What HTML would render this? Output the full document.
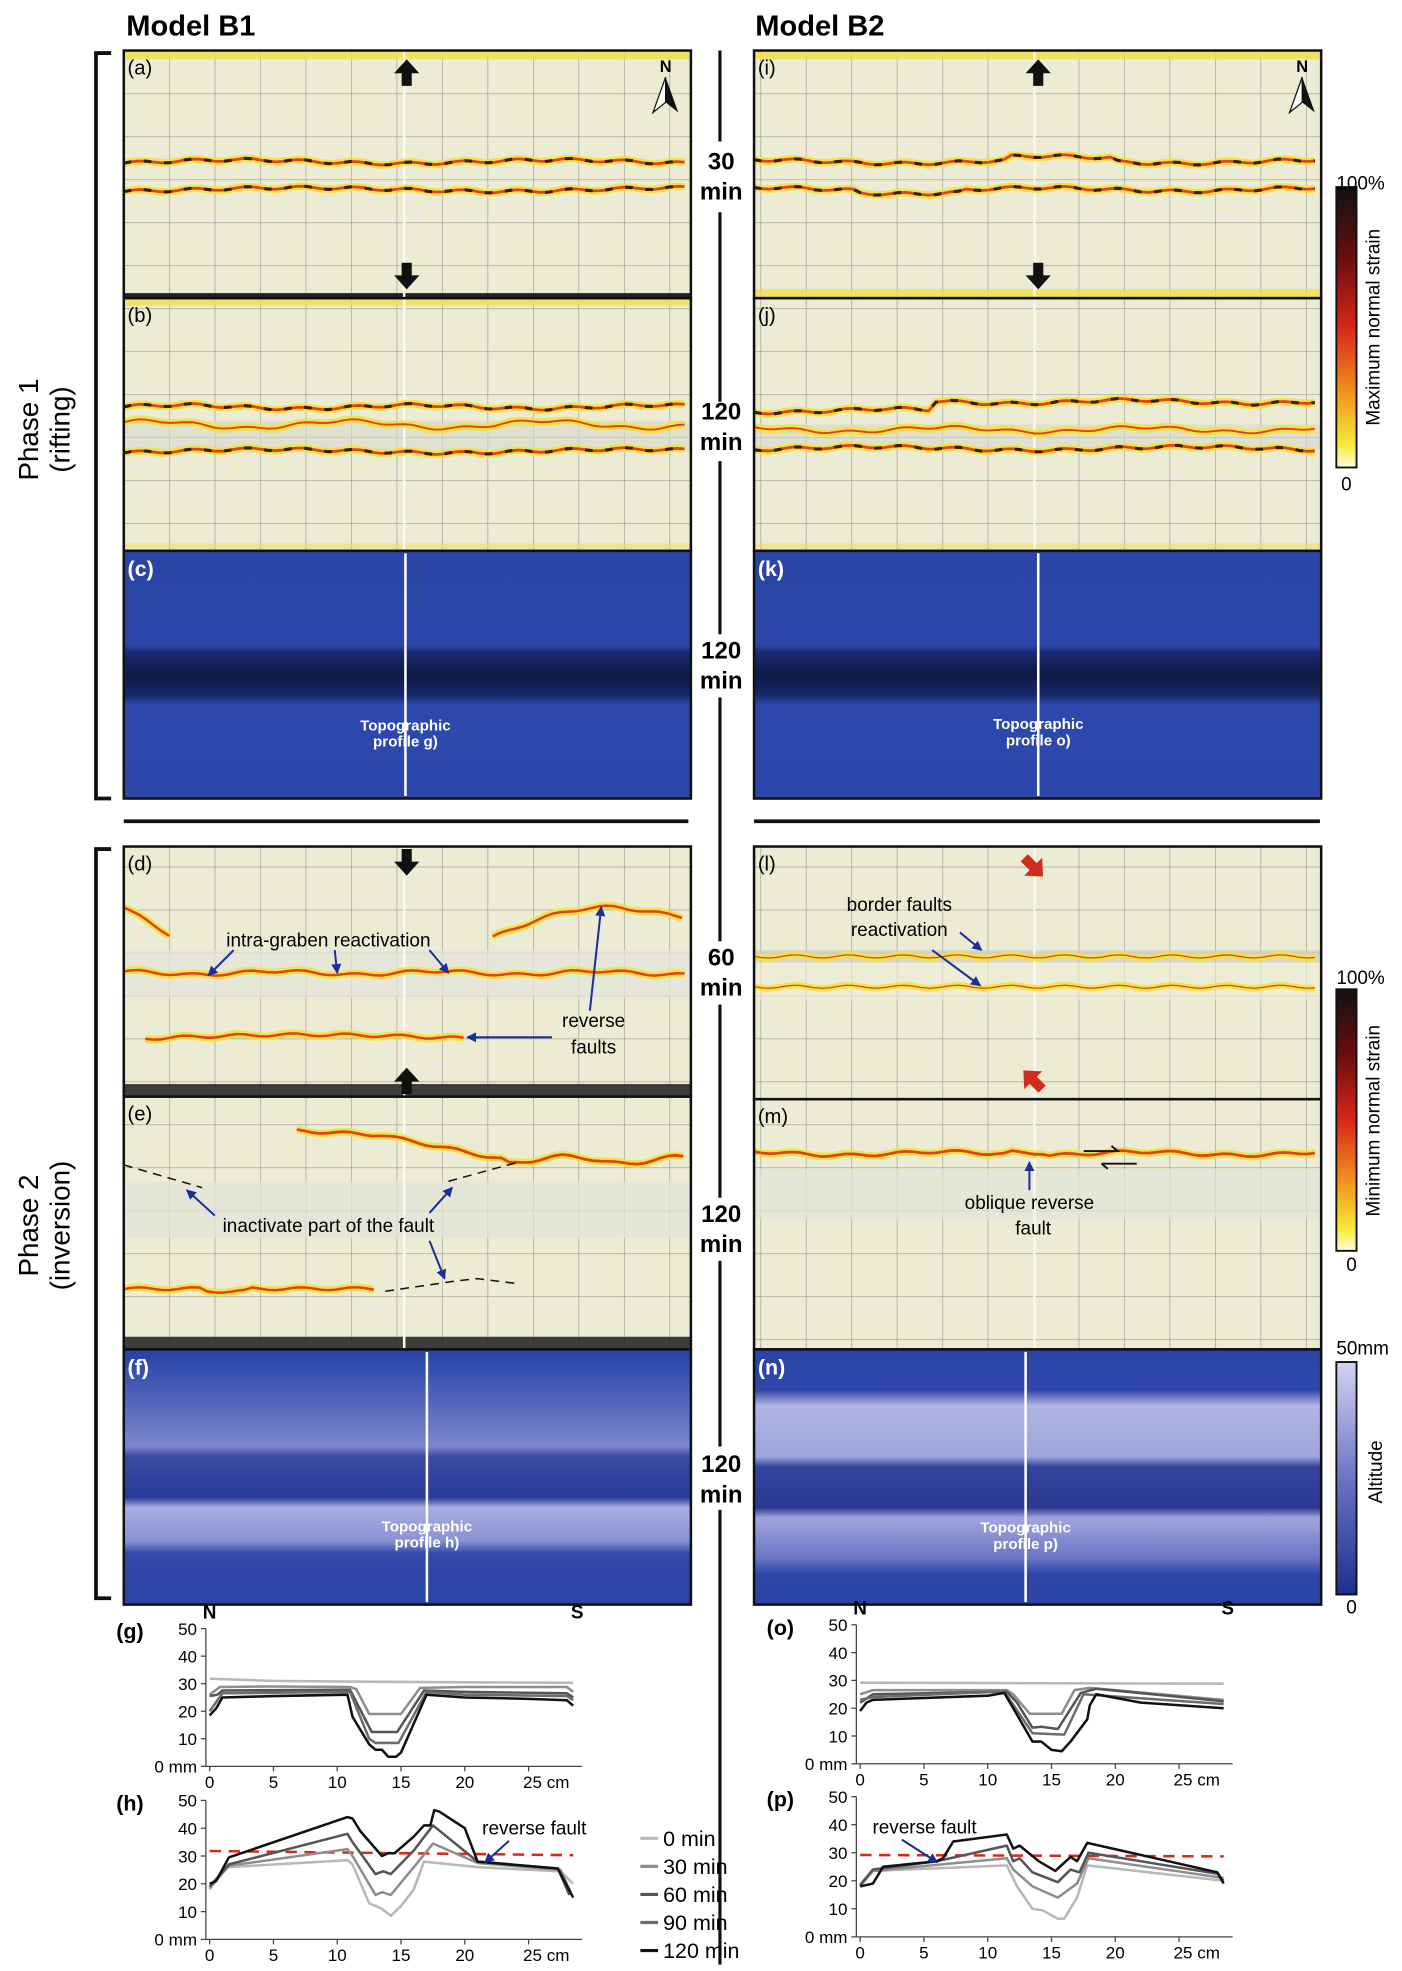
<!DOCTYPE html>
<html><head><meta charset="utf-8">
<style>
html,body{margin:0;padding:0;background:#fff;}
#wrap{width:1402px;height:1971px;position:relative;overflow:hidden;}
svg text{font-family:"Liberation Sans",sans-serif;}
</style></head>
<body>
<div id="wrap">
<svg id="fig" width="1402" height="1971" viewBox="0 0 1110 1560" preserveAspectRatio="none" xmlns="http://www.w3.org/2000/svg">
<defs>
  <pattern id="grid" width="36" height="34" patternUnits="userSpaceOnUse" x="98" y="40">
    <rect width="36" height="34" fill="#ecebd3"/>
    <path d="M0 0V34M0 0H36" stroke="#9a9a92" stroke-width="1"/>
  </pattern>
  <linearGradient id="cbStrain" x1="0" y1="0" x2="0" y2="1">
    <stop offset="0" stop-color="#111"/><stop offset="0.25" stop-color="#6a0d0d"/>
    <stop offset="0.5" stop-color="#d8261a"/><stop offset="0.75" stop-color="#f39a1c"/>
    <stop offset="0.92" stop-color="#f7ec3a"/><stop offset="1" stop-color="#fffbe0"/>
  </linearGradient>
  <linearGradient id="cbAlt" x1="0" y1="0" x2="0" y2="1">
    <stop offset="0" stop-color="#d4d4f2"/><stop offset="0.5" stop-color="#6b74c6"/>
    <stop offset="1" stop-color="#1d2f8c"/>
  </linearGradient>
  <linearGradient id="blueC" x1="0" y1="0" x2="0" y2="1">
    <stop offset="0" stop-color="#2a45a6"/><stop offset="0.38" stop-color="#2b46a8"/>
    <stop offset="0.41" stop-color="#1b2a70"/><stop offset="0.5" stop-color="#0e1a45"/>
    <stop offset="0.58" stop-color="#172766"/><stop offset="0.62" stop-color="#2c48ad"/>
    <stop offset="1" stop-color="#2c47aa"/>
  </linearGradient>
  <linearGradient id="blueF" x1="0" y1="0" x2="0" y2="1">
    <stop offset="0" stop-color="#2640a4"/><stop offset="0.1" stop-color="#3a52b2"/>
    <stop offset="0.38" stop-color="#7d86cc"/><stop offset="0.42" stop-color="#3a4aa4"/>
    <stop offset="0.58" stop-color="#2a3a98"/><stop offset="0.62" stop-color="#a8ade0"/>
    <stop offset="0.75" stop-color="#8a92d4"/><stop offset="0.8" stop-color="#3248aa"/>
    <stop offset="1" stop-color="#2a44a6"/>
  </linearGradient>
  <linearGradient id="blueN" x1="0" y1="0" x2="0" y2="1">
    <stop offset="0" stop-color="#2a44a8"/><stop offset="0.16" stop-color="#3046aa"/>
    <stop offset="0.22" stop-color="#b0b4e4"/><stop offset="0.42" stop-color="#9ea4dc"/>
    <stop offset="0.46" stop-color="#34449e"/><stop offset="0.62" stop-color="#2a3890"/>
    <stop offset="0.66" stop-color="#a0a6dc"/><stop offset="0.82" stop-color="#6a74c4"/>
    <stop offset="0.88" stop-color="#2c46a8"/><stop offset="1" stop-color="#2a44a6"/>
  </linearGradient>
  <marker id="ah" markerWidth="8" markerHeight="8" refX="7" refY="4" orient="auto" markerUnits="userSpaceOnUse">
    <path d="M0 0L8 4L0 8z" fill="#1a2f9c"/>
  </marker>
</defs>

<text x="100" y="28" font-size="23" font-weight="bold">Model B1</text>
<text x="598" y="28" font-size="23" font-weight="bold">Model B2</text>

<path d="M88 42H76V632H88" fill="none" stroke="#111" stroke-width="3"/>
<path d="M88 672H76V1265H88" fill="none" stroke="#111" stroke-width="3"/>
<text transform="translate(30,340) rotate(-90)" text-anchor="middle" font-size="22">Phase 1</text>
<text transform="translate(55,340) rotate(-90)" text-anchor="middle" font-size="22">(rifting)</text>
<text transform="translate(30,970) rotate(-90)" text-anchor="middle" font-size="22">Phase 2</text>
<text transform="translate(55,970) rotate(-90)" text-anchor="middle" font-size="22">(inversion)</text>

<line x1="98" y1="650" x2="545" y2="650" stroke="#111" stroke-width="3"/>
<line x1="597" y1="650" x2="1045" y2="650" stroke="#111" stroke-width="3"/>

<g id="panels"></g>
<g id="center"></g>

<g>
  <rect x="1058" y="148" width="16" height="222" fill="url(#cbStrain)" stroke="#111" stroke-width="1.5"/>
  <text x="1058" y="150" font-size="15">100%</text>
  <text x="1066" y="378" font-size="15" text-anchor="middle" dominant-baseline="hanging">0</text>
  <text transform="translate(1092,259) rotate(-90)" text-anchor="middle" font-size="15">Maximum normal strain</text>
</g>
<g>
  <rect x="1058" y="783" width="16" height="207" fill="url(#cbStrain)" stroke="#111" stroke-width="1.5"/>
  <text x="1058" y="779" font-size="15">100%</text>
  <text x="1070" y="996" font-size="15" text-anchor="middle" dominant-baseline="hanging">0</text>
  <text transform="translate(1092,887) rotate(-90)" text-anchor="middle" font-size="15">Minimum normal strain</text>
</g>
<g>
  <rect x="1058" y="1078" width="16" height="184" fill="url(#cbAlt)" stroke="#111" stroke-width="1.5"/>
  <text x="1058" y="1072" font-size="15">50mm</text>
  <text x="1070" y="1267" font-size="15" text-anchor="middle" dominant-baseline="hanging">0</text>
  <text transform="translate(1094,1165) rotate(-90)" text-anchor="middle" font-size="15">Altitude</text>
</g>

<g id="charts"></g>
<g id="legend"></g>
</svg>
</div>

<script>
// ---------- chart data (x in cm, altitude in mm) ----------
const timeLabels = ['0 min','30 min','60 min','90 min','120 min'];
const xTicks = [0,5,10,15,20,25];
const yTicks = [0,10,20,30,40,50];

const g0 = [[0,31.8],[5,31],[10,30.8],[20,30.5],[28.5,30.3]];
const g30 = [[0,26],[0.8,28.8],[5,29],[11,28.8],[11.5,28],[12.5,19],[15,19],[16.5,28.5],[20,28.8],[28,28.8],[28.5,27]];
const g60 = [[0,25.5],[0.6,26],[1,27.5],[11,27.8],[12.7,12.5],[14.7,12.5],[16.8,27.5],[20,27],[28,26.5],[28.5,25]];
const g90 = [[0,20],[1,26.5],[11,27],[12.5,10],[13,8.5],[14.8,8.5],[17,27],[20,26],[28,25.5],[28.5,24]];
const g120 = [[0,18.5],[0.5,21],[1,25],[5,25.5],[10.8,26],[11.2,18],[12.5,8],[13,6],[13.5,6],[14,3.5],[14.6,3.5],[15,5],[17,26],[20,25],[25,24.5],[28,24],[28.5,22]];

const h0 = [[0,18],[1,25],[1.5,26],[10.8,28.5],[11.2,27],[12.5,13],[13.5,11],[14.2,8.5],[15,12],[16,18],[16.8,28],[21,26],[27.5,24.5],[28.5,20]];
const h30 = [[0,18.5],[1.5,26.5],[10.8,32.5],[11.2,30],[13,16],[13.5,17],[14.2,16],[16,26],[17.5,34.5],[21,27.5],[27.5,25],[28.3,17]];
const h60 = [[0,19],[1.5,27],[10.8,38],[11.2,35],[13,23.5],[13.6,24.5],[14.2,23.5],[16,32],[17.5,41],[21,28],[27.3,25.5],[28.2,16]];
const h120 = [[0,20],[0.5,21],[1.5,29.5],[10.8,44],[11.2,43.5],[11.8,39],[13.5,30],[14,31],[14.5,31],[16,37],[16.8,41],[17.3,41],[17.6,46.5],[18,46],[20,40],[21,28],[27.3,25.5],[28.5,15]];
const hFault = [[0,31.8],[28.5,30.3]];

const o0 = [[0,29.2],[28.5,28.8]];
const o30 = [[0,25],[1,26.5],[11.5,26.5],[12,25],[13.3,18],[15.8,18],[16.8,26.5],[18,27.3],[28.5,23]];
const o60 = [[0,22],[1,25],[11.5,26],[12.3,22],[13.5,13],[14.2,13.3],[15.5,12.5],[17.3,25.5],[18.5,27],[28.5,22.5]];
const o90 = [[0,23],[1,24],[11.3,26],[13.5,11],[16,10.5],[17.5,25],[28.5,21.5]];
const o120 = [[0,19],[0.5,22],[1,23],[10,24.5],[11.3,25.5],[12.5,16],[13.5,8],[14.2,8],[15,5],[15.8,4.5],[16.5,8],[17.8,16],[18,21],[18.5,25],[22,22],[28.5,20]];

const p0 = [[0,18],[1,23.5],[11.5,25.5],[12.3,18],[13.5,10],[14.3,9.5],[15.5,6.5],[16,6.5],[17,14],[17.8,25.5],[28.5,20]];
const p30 = [[0,18.2],[1,23.5],[11.5,28],[12,24],[13.5,18],[15.5,14],[17,19],[17.9,28],[28.5,21]];
const p60 = [[0,18.5],[1,24],[6,27],[11.5,32.5],[12,27],[12.5,28],[13.5,23],[15.5,19.5],[16.5,24],[17.2,23],[17.9,30],[28,22.5],[28.5,20]];
const p120 = [[0,18],[1,19],[1.8,25],[6,27],[6.5,28],[7.3,34],[11.5,36.5],[12,31.5],[12.5,32.5],[14,27],[15.3,23.5],[16.5,28.5],[17,27],[17.8,33.5],[28,23],[28.5,19]];
const pFault = [[0,29.2],[28.5,28.7]];

const NS = 'http://www.w3.org/2000/svg';
function mk(tag, attrs, parent){
  const e = document.createElementNS(NS, tag);
  for (const k in attrs) e.setAttribute(k, attrs[k]);
  if (parent) parent.appendChild(e);
  return e;
}
const seriesColor = ['#b8b8b8','#8e8e8e','#555','#6c6c6c','#111'];

const panels = document.getElementById('panels');
function photoPanel(name, label, x, y, w, h, opts){
  const g = mk('g', {}, panels);
  
  
  mk('rect', {x:x, y:y, width:w, height:h, fill:'url(#grid)'}, g);
  (opts.bands||[]).forEach(b => mk('rect', {x:x, y:b[0], width:w, height:b[1], fill:b[2], opacity:b[3]||0.8}, g));
  mk('line', {x1:x+222, y1:y, x2:x+222, y2:y+h, stroke:'#fafaf4', 'stroke-width':2}, g);
  (opts.faults||[]).forEach(f => {
    const pts = [];
    for (let px = f.x0; px <= f.x1; px += 6) {
      const yy = f.fn(px) + Math.sin(px*0.9)*1.2;
      pts.push(px + ',' + yy.toFixed(1));
    }
    const s = pts.join(' ');
    mk('polyline', {points:s, fill:'none', stroke:'#f3e23a', 'stroke-width':f.wy||6, opacity:0.9}, g);
    mk('polyline', {points:s, fill:'none', stroke:'#e0431a', 'stroke-width':f.wr||2.2}, g);
    if (f.dark) mk('polyline', {points:s, fill:'none', stroke:'#3a1a18', 'stroke-width':2.5, 'stroke-dasharray':'6 10'}, g);
  });
  mk('rect', {x:x, y:y, width:w, height:h, fill:'none', stroke:'#111', 'stroke-width':2}, g);
  const t = mk('text', {x:x+3, y:y+19, 'font-size':16}, g);
  t.textContent = label;
  return g;
}
function bluePanel(name, label, x, y, w, h, fill, lineX, lblY, lbl2){
  const g = mk('g', {}, panels);
  
  
  mk('rect', {x:x, y:y, width:w, height:h, fill:fill, stroke:'#111', 'stroke-width':2}, g);
  mk('line', {x1:lineX, y1:y+2, x2:lineX, y2:y+h-2, stroke:'#fff', 'stroke-width':2}, g);
  const t = mk('text', {x:x+3, y:y+20, 'font-size':17, fill:'#fff', 'font-weight':'bold'}, g);
  t.textContent = label;
  const a = mk('text', {x:lineX, y:lblY, 'font-size':12, fill:'#fff', 'font-weight':'bold', 'text-anchor':'middle'}, g);
  a.textContent = 'Topographic';
  const b = mk('text', {x:lineX, y:lblY+13, 'font-size':12, fill:'#fff', 'font-weight':'bold', 'text-anchor':'middle'}, g);
  b.textContent = lbl2;
  return g;
}
function blockArrow(g, cx, cy, dir, color, rot){
  return mk('path', {d:'M-10 0L0 -11L10 0L4 0L4 10L-4 10L-4 0Z', fill:color,
    transform:'translate('+cx+','+cy+') rotate('+(rot!==undefined?rot:(dir>0?180:0))+')'}, g);
}
function northArrow(g, x, y){
  const t = mk('text', {x:x, y:y, 'font-size':13, 'font-weight':'bold', 'text-anchor':'middle'}, g);
  t.textContent = 'N';
  mk('path', {d:'M'+x+' '+(y+4)+'L'+(x-10)+' '+(y+32)+'L'+x+' '+(y+24)+'Z', fill:'#fff', stroke:'#111'}, g);
  mk('path', {d:'M'+x+' '+(y+4)+'L'+(x+10)+' '+(y+32)+'L'+x+' '+(y+24)+'Z', fill:'#111'}, g);
}
function txt(g, x, y, s, size, anchor){
  const t = mk('text', {x:x, y:y, 'font-size':size||15, 'text-anchor':anchor||'middle'}, g);
  t.textContent = s;
  return t;
}
function arrow(g, x1,y1,x2,y2){
  mk('line', {x1:x1,y1:y1,x2:x2,y2:y2, stroke:'#1a2f9c','stroke-width':1.6,'marker-end':'url(#ah)'}, g);
}

let pa = photoPanel('panel-a','(a)',98,40,449,196,{bands:[[40,7,'#f1e04a'],[232,5,'#222',1]],
  faults:[{x0:98,x1:545,fn:p=>128+Math.sin(p/40)*1.5,dark:true},{x0:98,x1:545,fn:p=>150+Math.sin(p/50)*1.5,dark:true}]});
blockArrow(pa,322,58,-1,'#111'); blockArrow(pa,322,218,1,'#111'); northArrow(pa,527,57);
photoPanel('panel-b','(b)',98,236,449,200,{bands:[[236,6,'#f1e04a'],[430,4,'#f1e04a',0.5],[333,25,'#d8d8cc',0.6]],
  faults:[{x0:98,x1:545,fn:p=>322+Math.sin(p/30)*1.5,dark:true},{x0:98,x1:545,fn:p=>336+Math.sin(p/25)*3,wr:1.5},{x0:98,x1:545,fn:p=>357+Math.sin(p/45)*1.5,dark:true}]});
bluePanel('panel-c','(c)',98,436,449,196,'url(#blueC)',321,578,'profile g)');

let pi = photoPanel('panel-i','(i)',597,40,449,196,{bands:[[40,7,'#f1e04a'],[229,7,'#f1e04a']],
  faults:[{x0:597,x1:1045,fn:p=>128-(p>800&&p<880?3:0)+Math.sin(p/35)*1.5,dark:true},{x0:597,x1:1045,fn:p=>150+(p>680&&p<760?2:0)+Math.sin(p/35)*1.5,dark:true}]});
blockArrow(pi,822,58,-1,'#111'); blockArrow(pi,822,218,1,'#111'); northArrow(pi,1031,57);
photoPanel('panel-j','(j)',597,236,449,200,{bands:[[430,4,'#f1e04a',0.5],[336,20,'#d8d8cc',0.6]],
  faults:[{x0:597,x1:1045,fn:p=>(p<740?325:318)+Math.sin(p/30)*1.5,dark:true},{x0:597,x1:1045,fn:p=>340+Math.sin(p/25)*2,wr:1.5},{x0:597,x1:1045,fn:p=>355+Math.sin(p/40)*1.5,dark:true}]});
bluePanel('panel-k','(k)',597,436,449,196,'url(#blueC)',822,577,'profile o)');

let pd = photoPanel('panel-d','(d)',98,670,449,198,{bands:[[752,38,'#e6e6dc',0.7],[858,10,'#2a2a2a',0.9]],
  faults:[{x0:98,x1:545,fn:p=>770+Math.sin(p/20)*1.5,wr:2},{x0:390,x1:545,fn:p=>742-24*Math.sin(Math.min(1,(p-390)/90)*Math.PI/2)+(p>490?(p-490)*0.15:0),wr:2},{x0:98,x1:135,fn:p=>718+(p-98)*0.6,wr:2},{x0:115,x1:370,fn:p=>822-Math.sin((p-115)/255*Math.PI)*3,wr:2}]});
blockArrow(pd,322,682,1,'#111'); blockArrow(pd,322,856,-1,'#111');
txt(pd,260,749,'intra-graben reactivation',15);
txt(pd,470,813,'reverse',15); txt(pd,470,834,'faults',15);
arrow(pd,185,752,165,772); arrow(pd,265,752,267,770); arrow(pd,340,752,355,770);
arrow(pd,467,800,476,718); arrow(pd,437,821,370,821);

let pe = photoPanel('panel-e','(e)',98,868,449,200,{bands:[[935,45,'#e4e4da',0.7],[1058,10,'#2a2a2a',0.9]],
  faults:[{x0:235,x1:545,fn:p=>p<300?895+(p-235)*0.05:(p<400?898+(p-300)*0.2:918+Math.sin(p/15)*3),wr:2.2},{x0:98,x1:300,fn:p=>1020+(p>160&&p<200?2:0),wr:2}]});
mk('path',{d:'M98 922L160 940M355 935L395 924L410 920M305 1022L360 1014L378 1012L410 1016',fill:'none',stroke:'#111','stroke-width':1.2,'stroke-dasharray':'7 5'},pe);
txt(pe,260,975,'inactivate part of the fault',15);
arrow(pe,170,962,148,942); arrow(pe,340,960,358,940); arrow(pe,340,982,352,1012);

bluePanel('panel-f','(f)',98,1068,449,202,'url(#blueF)',338,1212,'profile h)');

let pl = photoPanel('panel-l','(l)',597,670,449,200,{bands:[[752,10,'#cfcfc8',0.7],[762,30,'#eeeed8',0.6]],
  faults:[{x0:597,x1:1045,fn:p=>757,wr:1,wy:5},{x0:597,x1:1045,fn:p=>781,wr:1,wy:5}]});
blockArrow(pl,818,686,1,'#d22c1e',135); blockArrow(pl,818,855,-1,'#d22c1e',-45);
txt(pl,712,721,'border faults',15); txt(pl,712,741,'reactivation',15);
arrow(pl,760,738,777,752); arrow(pl,738,752,776,780);

let pm = photoPanel('panel-m','(m)',597,870,449,198,{bands:[[925,40,'#e4e4da',0.7]],
  faults:[{x0:597,x1:1045,fn:p=>913+Math.sin(p/25)*1.5-(p>800&&p<830?2:0),wr:2.2}]});
mk('path',{d:'M858 911H885L880 907M872 921H900M872 921L877 925',fill:'none',stroke:'#111','stroke-width':1.5},pm);
txt(pm,815,957,'oblique reverse',15); txt(pm,818,977,'fault',15);
arrow(pm,815,942,815,920);

bluePanel('panel-n','(n)',597,1068,449,202,'url(#blueN)',812,1213,'profile p)');

const center = document.getElementById('center');
[[40,112],[168,318],[365,502],[552,745],[795,948],[998,1145],[1195,1555]].forEach(s=>{
  const l = mk('line',{x1:570,y1:s[0],x2:570,y2:s[1],stroke:'#111','stroke-width':2.5},center);
  
  
});
[['30',134,'min',158],['120',332,'min',356],['120',521,'min',545],['60',764,'min',788],['120',967,'min',991],['120',1165,'min',1189]].forEach(r=>{
  const a = mk('text',{x:571,y:r[1],'font-size':19,'font-weight':'bold','text-anchor':'middle'},center);
  a.textContent = r[0];
  
  
  const b = mk('text',{x:571,y:r[3],'font-size':19,'font-weight':'bold','text-anchor':'middle'},center);
  b.textContent = r[2];
});

const charts = document.getElementById('charts');
function chart(name, label, x0, y0, y50, series, fault, showNS){
  const pxPerCm = 10.1;
  const sx = v => x0 + v*pxPerCm;
  const sy = v => y0 - (y0-y50)*v/50;
  const g = mk('g', {}, charts);
  
  
  mk('path',{d:'M'+(x0-3)+' '+y50+'V'+y0+'H'+sx(29.2),fill:'none',stroke:'#444','stroke-width':1},g);
  yTicks.forEach(v=>{
    mk('line',{x1:x0-7,y1:sy(v),x2:x0-3,y2:sy(v),stroke:'#444'},g);
    const t = mk('text',{x:x0-10,y:sy(v)+5,'font-size':13.5,'text-anchor':'end'},g);
    t.textContent = v===0 ? '0 mm' : String(v);
    
    
  });
  xTicks.forEach(v=>{
    mk('line',{x1:sx(v),y1:y0,x2:sx(v),y2:y0+4,stroke:'#444'},g);
    const t = mk('text',{x:sx(v)+(v===25?14:0),y:y0+17,'font-size':13.5,'text-anchor':'middle'},g);
    t.textContent = v===25 ? '25 cm' : String(v);
    
    
  });
  const lb = mk('text',{x:x0-74,y:y50+8,'font-size':17,'font-weight':'bold'},g);
  lb.textContent = label;
  
  
  if (showNS){
    const n = mk('text',{x:x0,y:y50-8,'font-size':15,'font-weight':'bold','text-anchor':'middle'},g);
    n.textContent = 'N';
    const s = mk('text',{x:x0+291,y:y50-8,'font-size':15,'font-weight':'bold','text-anchor':'middle'},g);
    s.textContent = 'S';
  }
  if (fault){
    const f = mk('polyline',{points:fault.map(p=>sx(p[0])+','+sy(p[1])).join(' '),fill:'none',stroke:'#d42a1e','stroke-width':2,'stroke-dasharray':'9 6'},g);
    
    
  }
  series.forEach(s=>{
    const pl = mk('polyline',{points:s.data.map(p=>sx(p[0]).toFixed(1)+','+sy(p[1]).toFixed(1)).join(' '),fill:'none',stroke:seriesColor[s.i],'stroke-width':2,'stroke-linejoin':'round'},g);
    
    
  });
  return {g:g,sx:sx,sy:sy};
}
chart('chart-g','(g)',166,1398,1289,[{i:0,data:g0},{i:1,data:g30},{i:2,data:g60},{i:3,data:g90},{i:4,data:g120}],null,true);
const ch = chart('chart-h','(h)',166,1535,1425,[{i:0,data:h0},{i:1,data:h30},{i:2,data:h60},{i:4,data:h120}],hFault,false);
txt(ch.g,423,1452,'reverse fault',15); arrow(ch.g,403,1457,384,1474);
chart('chart-o','(o)',681,1396,1286,[{i:0,data:o0},{i:1,data:o30},{i:2,data:o60},{i:3,data:o90},{i:4,data:o120}],null,true);
const cp = chart('chart-p','(p)',681,1533,1422,[{i:0,data:p0},{i:1,data:p30},{i:2,data:p60},{i:4,data:p120}],pFault,false);
txt(cp.g,732,1451,'reverse fault',15); arrow(cp.g,714,1456,742,1474);

const legend = document.getElementById('legend');
timeLabels.forEach((lab,i)=>{
  const y = 1455 + i*22.2;
  const l = mk('line',{x1:507,y1:y,x2:521,y2:y,stroke:seriesColor[i],'stroke-width':2.5},legend);
  
  
  const t = mk('text',{x:525,y:y+6,'font-size':17},legend);
  t.textContent = lab;
  
  
});
</script>
</body></html>
